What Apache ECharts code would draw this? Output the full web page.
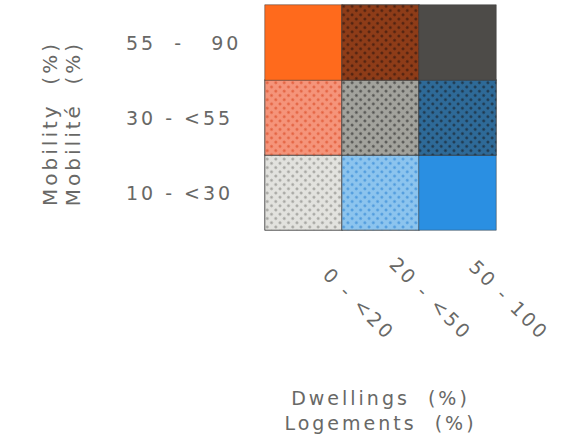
<!DOCTYPE html>
<html><head><meta charset="utf-8">
<script src="https://cdn.jsdelivr.net/npm/echarts@6/dist/echarts.min.js"></script>
<style>html,body{margin:0;padding:0;background:#fff}#c{width:573px;height:446px}#c svg text{letter-spacing:3px}</style>
</head><body><div id="c"></div>
<script>
var dwellingClasses = ['0 - <20', '20 - <50', '50 - 100'];
var mobilityClasses = ['10 - <30', '30 - <55', '55  -   90'];
// [dwellingIndex, mobilityIndex, class code]
var cells = [
  [0, 0, 1], [1, 0, 2], [2, 0, 3],
  [0, 1, 4], [1, 1, 5], [2, 1, 6],
  [0, 2, 7], [1, 2, 8], [2, 2, 9]
];
var baseColors = ['#e2e2de', '#8cc4ee', '#2a8fe2', '#f5947a', '#a2a29c', '#2e6a98', '#ff6a1c', '#8e3c18', '#4d4b48'];
var dotColors  = ['#a0a09c', '#4a98dc', null, '#e2603e', '#4e4e4c', '#1e3446', null, '#4a2010', null];

var data = cells.map(function (c, i) {
  var st = { color: baseColors[i] };
  if (dotColors[i]) {
    st.decal = { symbol: 'circle', symbolSize: 0.9, color: dotColors[i], dashArrayX: [3, 3], dashArrayY: [3, 3], rotation: Math.PI / 4 };
  }
  return { value: c, itemStyle: st };
});

var chart = echarts.init(document.getElementById('c'), null, { renderer: 'svg' });
var txt = '#686866';
var fam = 'DejaVu Sans';
chart.setOption({
  animation: false,
  grid: { left: 265, right: 77, top: 5, bottom: 216 },
  xAxis: {
    type: 'category', data: dwellingClasses,
    axisLine: { show: false }, axisTick: { show: false }, splitLine: { show: false },
    axisLabel: {
      rotate: -45, margin: 18, align: 'left', verticalAlign: 'middle',
      formatter: function (v) { return '{t|' + v + '}'; },
      rich: { t: { width: 125, align: 'right', color: txt, fontFamily: fam, fontSize: 19 } }
    },
    name: 'Dwellings  (%)\nLogements  (%)', nameLocation: 'middle', nameGap: 155,
    nameTextStyle: { color: txt, fontFamily: fam, fontSize: 19, lineHeight: 25 }
  },
  yAxis: {
    type: 'category', data: mobilityClasses,
    axisLine: { show: false }, axisTick: { show: false }, splitLine: { show: false },
    axisLabel: { color: txt, fontFamily: fam, fontSize: 19, align: 'left', margin: 139 },
    name: 'Mobility  (%)\nMobilité  (%)', nameLocation: 'middle', nameGap: 181, nameRotate: 90,
    nameTextStyle: { color: txt, fontFamily: fam, fontSize: 20, lineHeight: 23, padding: [0, 12, 0, 0] }
  },
  series: [{
    type: 'heatmap', data: data,
    itemStyle: { borderColor: '#3a3a3a', borderWidth: 0.5 }
  }]
});
</script></body></html>
